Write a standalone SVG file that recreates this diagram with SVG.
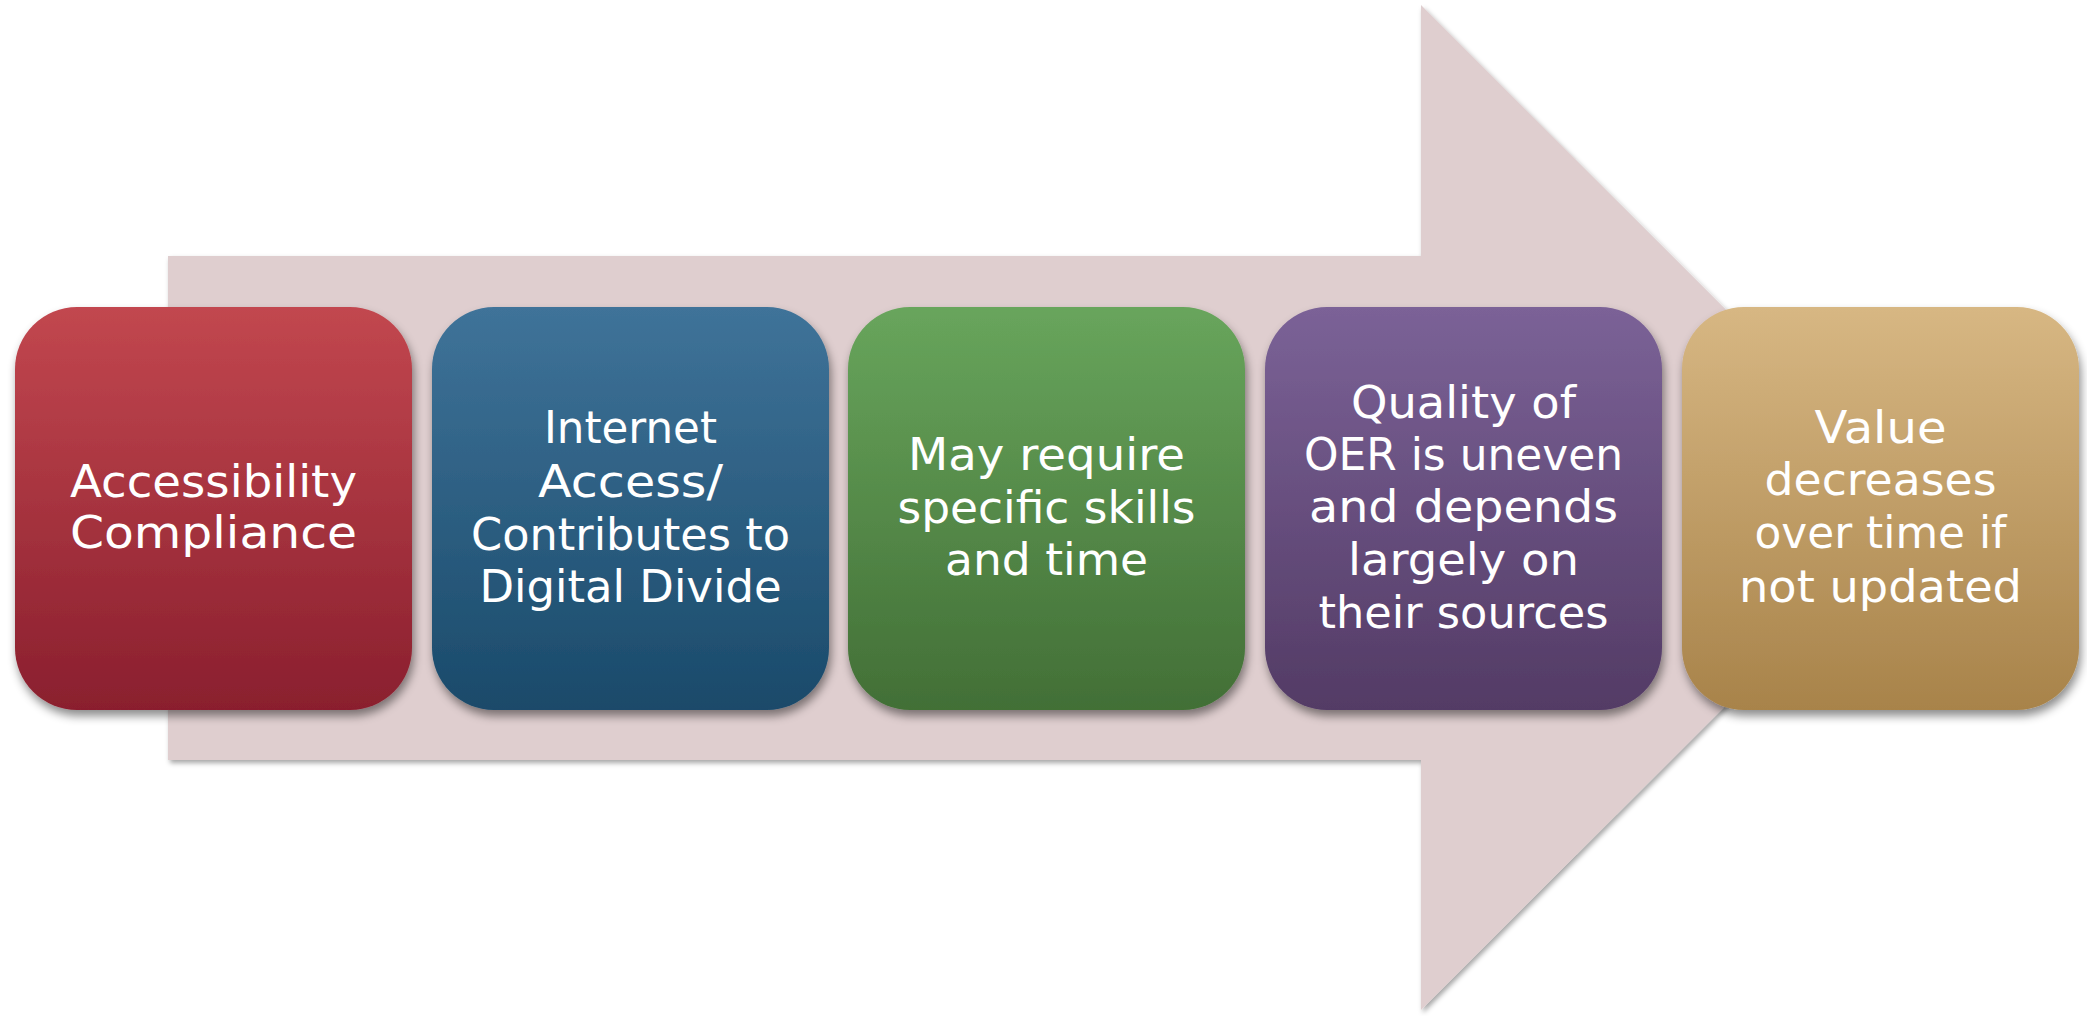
<svg xmlns="http://www.w3.org/2000/svg" width="2087" height="1016" viewBox="0 0 2087 1016">
<style>
.lbl{font-family:"DejaVu Sans",sans-serif;font-size:44px;fill:#ffffff;text-anchor:middle}
.box{filter:url(#boxShadow)}
</style>
<defs>
<filter id="boxShadow" x="-10%" y="-10%" width="125%" height="130%">
<feDropShadow dx="2" dy="6" stdDeviation="5" flood-color="#000" flood-opacity="0.45"/>
</filter>
<filter id="arrowShadow" x="-5%" y="-5%" width="110%" height="110%">
<feDropShadow dx="2" dy="3" stdDeviation="2.5" flood-color="#000" flood-opacity="0.35"/>
</filter>
<linearGradient id="gRed" x1="0" y1="0" x2="0" y2="1"><stop offset="0" stop-color="#C2474F"/><stop offset="1" stop-color="#8A1F2E"/></linearGradient>
<linearGradient id="gBlue" x1="0" y1="0" x2="0" y2="1"><stop offset="0" stop-color="#3F7399"/><stop offset="1" stop-color="#1A4A6A"/></linearGradient>
<linearGradient id="gGreen" x1="0" y1="0" x2="0" y2="1"><stop offset="0" stop-color="#68A55C"/><stop offset="1" stop-color="#426F36"/></linearGradient>
<linearGradient id="gPurple" x1="0" y1="0" x2="0" y2="1"><stop offset="0" stop-color="#7B6297"/><stop offset="1" stop-color="#533B65"/></linearGradient>
<linearGradient id="gGold" x1="0" y1="0" x2="0" y2="1"><stop offset="0" stop-color="#D7B783"/><stop offset="1" stop-color="#A8834A"/></linearGradient>
</defs>
<rect width="2087" height="1016" fill="#ffffff"/>
<g id="connectors">
<polygon id="arrow" points="168,256 1421,256 1421,5 1924,507.5 1421,1010 1421,760 168,760" fill="#DFCECF" filter="url(#arrowShadow)"/>
</g>
<g id="node1">
<rect class="box" x="15" y="307" width="397" height="403" rx="62" fill="url(#gRed)"/>
<text class="lbl" x="213.5" y="497" textLength="287" lengthAdjust="spacingAndGlyphs">Accessibility</text>
<text class="lbl" x="213.5" y="548" textLength="287" lengthAdjust="spacingAndGlyphs">Compliance</text>
</g>
<g id="node2">
<rect class="box" x="432" y="307" width="397" height="403" rx="62" fill="url(#gBlue)"/>
<text class="lbl" x="630.5" y="443" textLength="173" lengthAdjust="spacingAndGlyphs">Internet</text>
<text class="lbl" x="630.5" y="497" textLength="185" lengthAdjust="spacingAndGlyphs">Access/</text>
<text class="lbl" x="630.5" y="550" textLength="319" lengthAdjust="spacingAndGlyphs">Contributes to</text>
<text class="lbl" x="630.5" y="602" textLength="302" lengthAdjust="spacingAndGlyphs">Digital Divide</text>
</g>
<g id="node3">
<rect class="box" x="848" y="307" width="397" height="403" rx="62" fill="url(#gGreen)"/>
<text class="lbl" x="1046.5" y="470" textLength="277" lengthAdjust="spacingAndGlyphs">May require</text>
<text class="lbl" x="1046.5" y="523" textLength="298" lengthAdjust="spacingAndGlyphs">specific skills</text>
<text class="lbl" x="1046.5" y="575" textLength="203" lengthAdjust="spacingAndGlyphs">and time</text>
</g>
<g id="node4">
<rect class="box" x="1265" y="307" width="397" height="403" rx="62" fill="url(#gPurple)"/>
<text class="lbl" x="1463.5" y="418" textLength="225" lengthAdjust="spacingAndGlyphs">Quality of</text>
<text class="lbl" x="1463.5" y="470" textLength="319" lengthAdjust="spacingAndGlyphs">OER is uneven</text>
<text class="lbl" x="1463.5" y="522" textLength="309" lengthAdjust="spacingAndGlyphs">and depends</text>
<text class="lbl" x="1463.5" y="575" textLength="231" lengthAdjust="spacingAndGlyphs">largely on</text>
<text class="lbl" x="1463.5" y="628" textLength="290" lengthAdjust="spacingAndGlyphs">their sources</text>
</g>
<g id="node5">
<rect class="box" x="1682" y="307" width="397" height="403" rx="62" fill="url(#gGold)"/>
<text class="lbl" x="1880.5" y="443" textLength="132" lengthAdjust="spacingAndGlyphs">Value</text>
<text class="lbl" x="1880.5" y="495" textLength="232" lengthAdjust="spacingAndGlyphs">decreases</text>
<text class="lbl" x="1880.5" y="548" textLength="252" lengthAdjust="spacingAndGlyphs">over time if</text>
<text class="lbl" x="1880.5" y="602" textLength="283" lengthAdjust="spacingAndGlyphs">not updated</text>
</g>
</svg>
